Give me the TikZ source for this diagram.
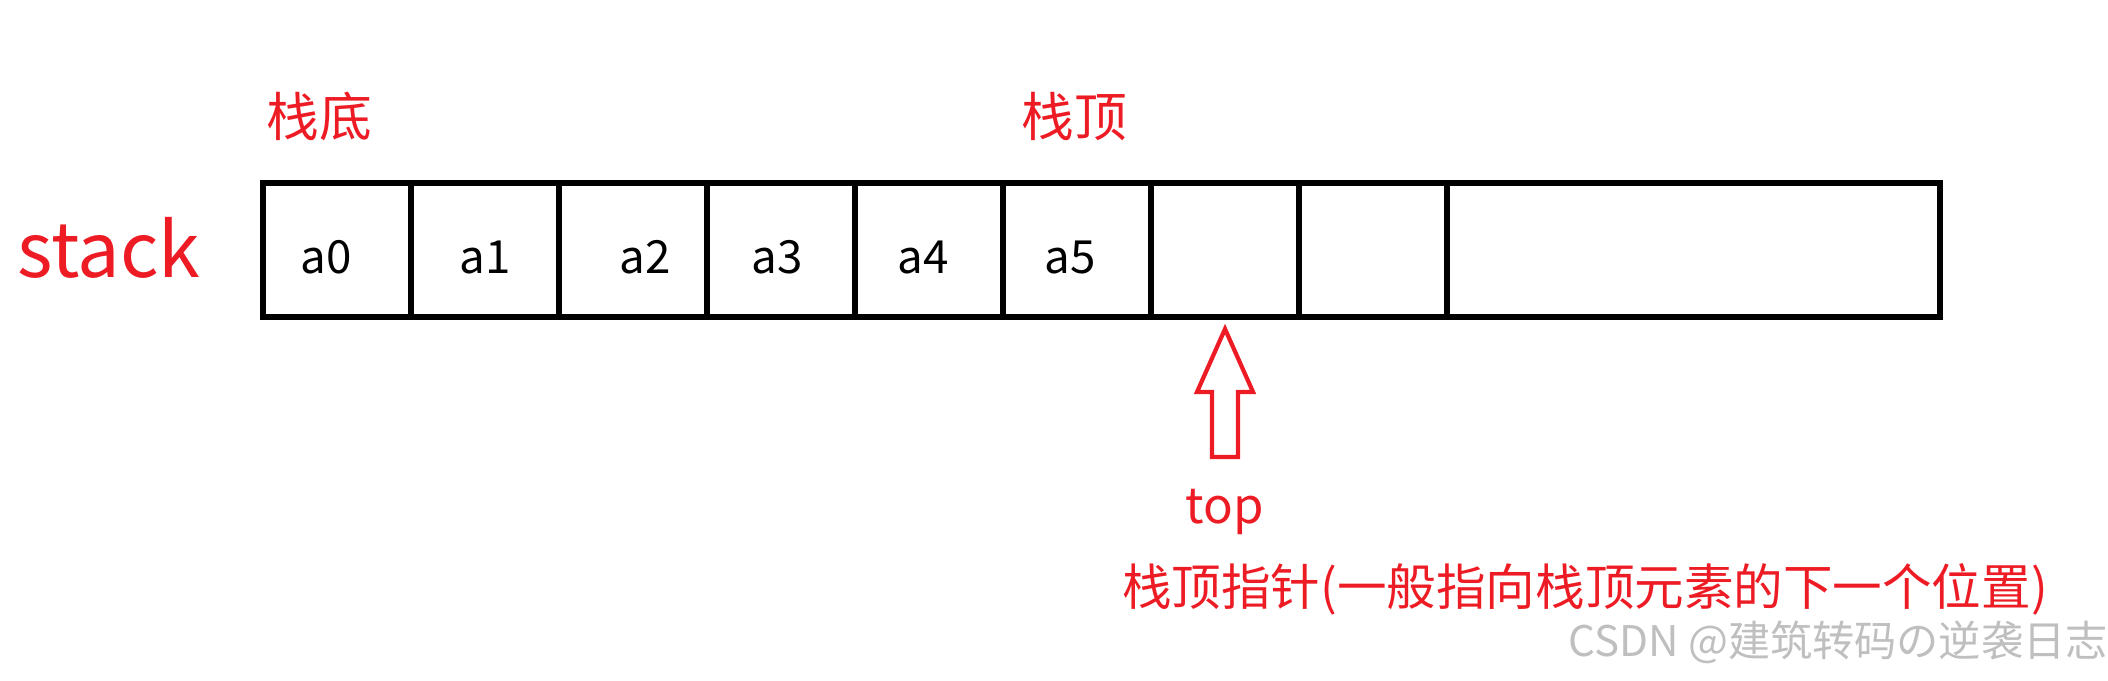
\documentclass[tikz,border=0pt]{standalone}
\usepackage{fontspec}
\setmainfont{Noto Sans CJK SC}
\usetikzlibrary{positioning,calc}
\definecolor{notered}{RGB}{237,28,36}

\begin{document}
\begin{tikzpicture}[font = \fontsize{13}{15}\selectfont]
    \tikzset{
      cell/.style = {draw, line width = 1.5pt, minimum width = 1.48cm, minimum height = 1.34cm, inner sep = 0pt, outer sep = 0pt, anchor = north west},
      item/.style = {inner sep = 0pt},
      note/.style = {text = notered, inner sep = 0pt},
      hollow/.style = {draw = notered, line width = 1.2pt, line join = miter},
    }
    \useasboundingbox (0, 0) rectangle (21.08, 6.8);

    \foreach \i in {0, ..., 7}
      \node [cell] (c\i) at (2.63 + 1.48 * \i, 4.97) {};
    \node [cell, minimum width = 4.93cm] (c8) at (14.47, 4.97) {};

    \foreach \i/\dx in {0/-0.11, 1/0, 2/0.12, 3/-0.04, 4/-0.06, 5/-0.07}
      \node [item] (a\i) at ($(c\i.center) + (\dx, -0.07)$) {a\i};

    \node [note, font = \fontsize{21.5}{25}\selectfont, anchor = base] (stack) at (1.09, 4.03) {stack};
    \node [note, font = \fontsize{15}{18}\selectfont] (bottom) at (3.19, 5.64) {栈底};
    \node [note, font = \fontsize{15}{18}\selectfont] (peak) at (10.74, 5.63) {栈顶};

    % hollow arrow pointing at the free slot
    \coordinate (tip) at ($(c6.south) + (0, -0.12)$);
    \draw [hollow] (tip) -- ++(0.28, -0.63) -- ++(-0.15, 0) -- ++(0, -0.65)
      -- ++(-0.26, 0) -- ++(0, 0.65) -- ++(-0.15, 0) -- cycle;

    \node [note, font = \fontsize{14}{17}\selectfont, anchor = base] (top) at (12.25, 1.57) {top};
    \node [note, font = \fontsize{14.1}{17}\selectfont] (pointer) at (15.85, 0.91) {栈顶指针(一般指向栈顶元素的下一个位置)};
    \node [item, text = black!25, font = \fontsize{12}{14}\selectfont] (mark) at (18.38, 0.38) {CSDN @建筑转码の逆袭日志};
\end{tikzpicture}
\end{document}
